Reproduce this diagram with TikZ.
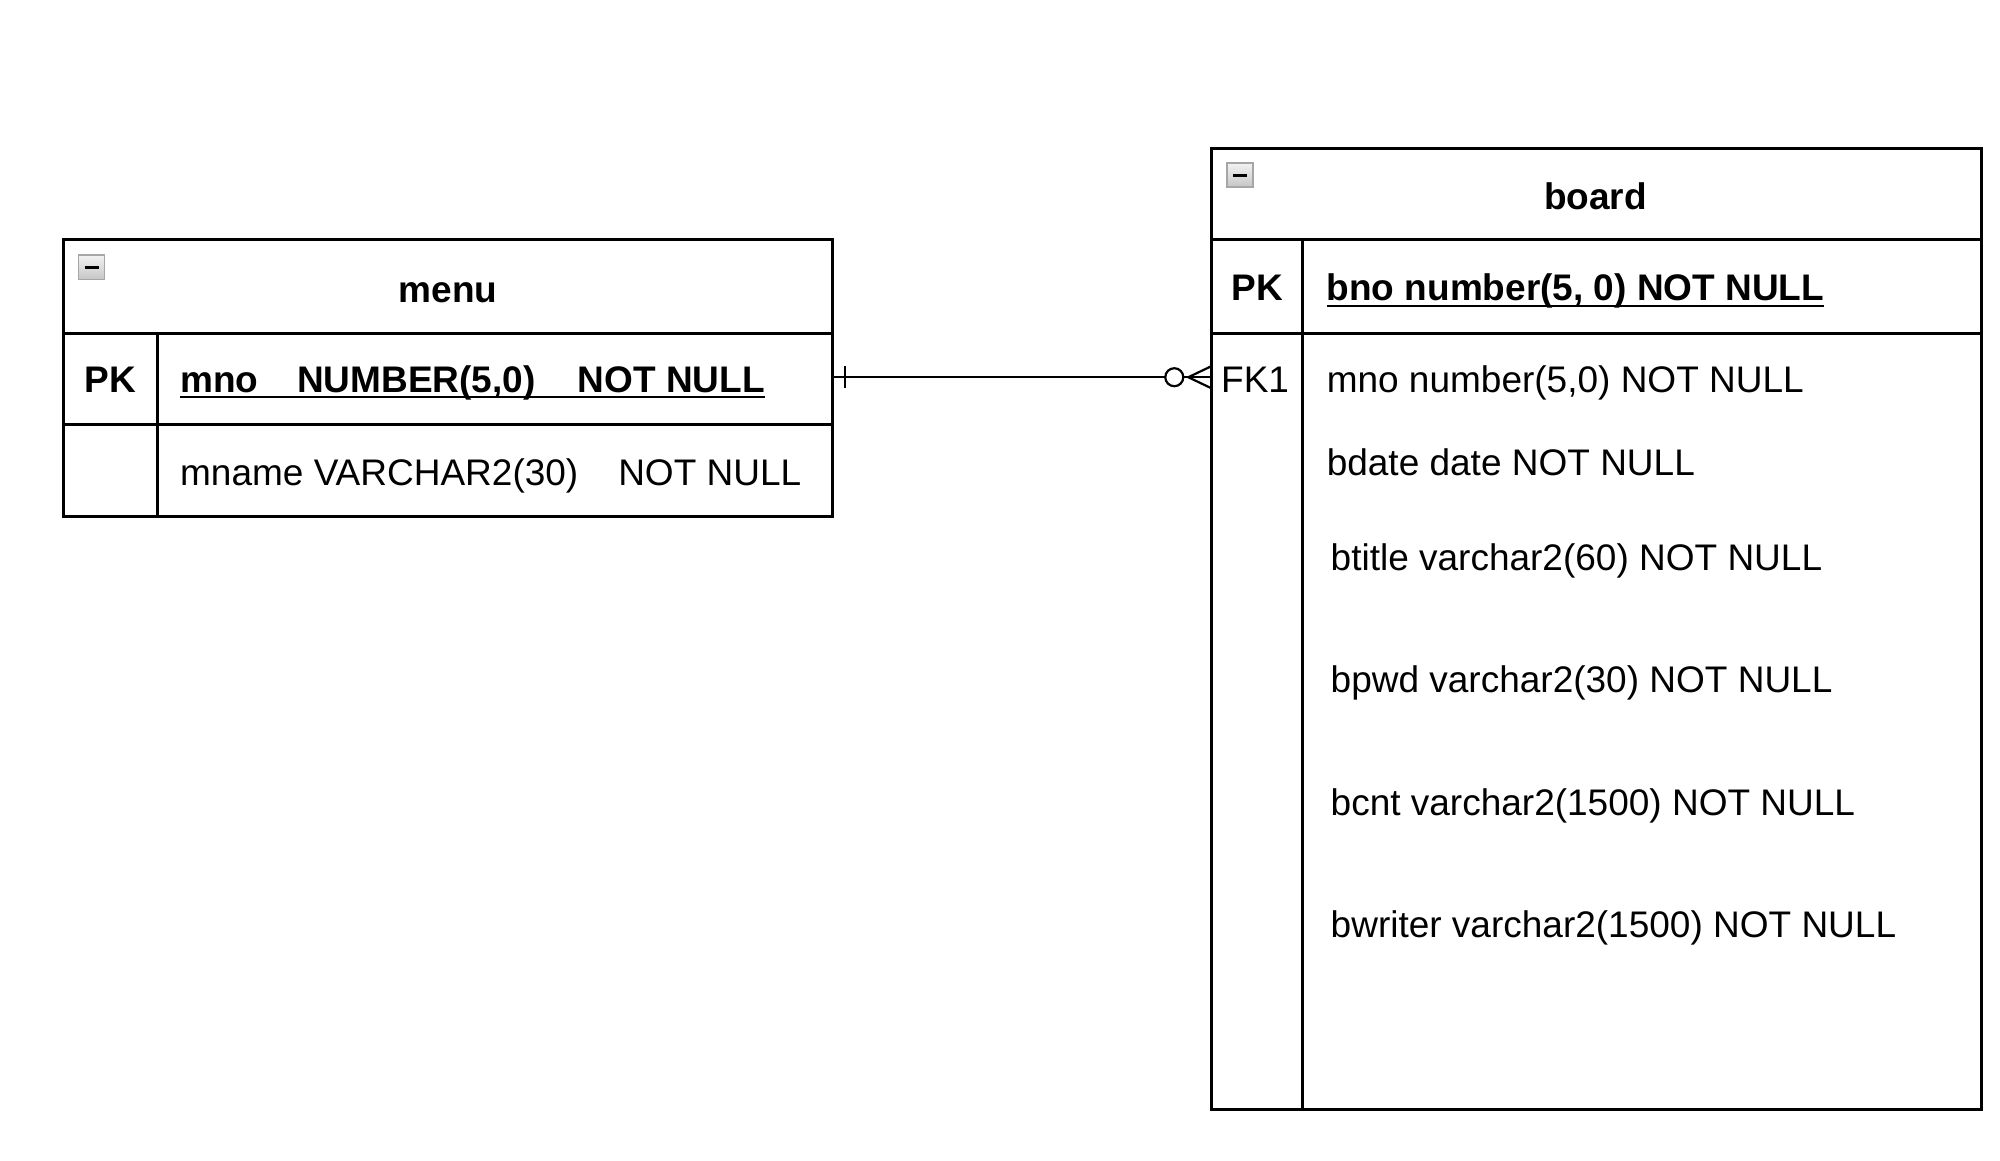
\documentclass[tikz,border=0pt]{standalone}
\usepackage{fontspec}
\setmainfont{Liberation Sans}
\begin{document}
\begin{tikzpicture}[x=0.9953pt,y=-0.9953pt,
  every node/.style={font=\fontsize{37}{44}\selectfont, inner sep=0pt, outer sep=0pt},
  tbl/.style={draw, line width=3pt, rectangle, anchor=north west},
  sep/.style={line width=3pt},
  fld/.style={anchor=base west},
  ttl/.style={anchor=base, font=\fontsize{37}{44}\selectfont\bfseries},
  key/.style={anchor=base},
  uline/.style={line width=2pt},
  rel/.style={line width=2.2pt},
  icon/.style={draw=gray!70, line width=1.5pt, top color=gray!10, bottom color=gray!45}
]
\useasboundingbox (0pt,0pt) rectangle (2000pt,-1161pt);

% ---------- menu table ----------
\node[tbl, minimum width=769pt, minimum height=277pt] (menu) at (64,241) {};
\draw[sep] (64,335) -- (837,335);
\draw[sep] (64,427) -- (837,427);
\draw[sep] (158,335) -- (158,519);
\draw[icon] (79,256) rectangle (105,281);
\draw[line width=3pt] (85,268.5) -- (99,268.5);
\node[ttl] (menutitle) at (450,304) {menu};
\node[key, font=\fontsize{37}{44}\selectfont\bfseries] (mpk) at (111,394) {PK};
\node[fld, font=\fontsize{37}{44}\selectfont\bfseries] (mno) at (181,394) {mno\hspace{39pt}NUMBER(5,0)\hspace{42pt}NOT NULL};
\draw[uline] ([yshift=-5pt]mno.base west) -- ([yshift=-5pt]mno.base east);
\node[fld] (mname) at (181,488) {mname VARCHAR2(30)\hspace{40pt}NOT NULL};

% ---------- board table ----------
\node[tbl, minimum width=770pt, minimum height=961pt] (board) at (1217,149) {};
\draw[sep] (1217,241) -- (1991,241);
\draw[sep] (1217,335) -- (1991,335);
\draw[sep] (1309,241) -- (1309,1115);
\draw[icon] (1233,164) rectangle (1259,188);
\draw[line width=3pt] (1239,176) -- (1253,176);
\node[ttl] (boardtitle) at (1603,210) {board};
\node[key, font=\fontsize{37}{44}\selectfont\bfseries] (bpk) at (1263,302) {PK};
\node[fld, font=\fontsize{37}{44}\selectfont\bfseries] (bno) at (1333,302) {bno number(5, 0) NOT NULL};
\draw[uline] ([yshift=-5pt]bno.base west) -- ([yshift=-5pt]bno.base east);
\node[key] (fk) at (1261,394) {FK1};
\node[fld] (bmno) at (1333,394) {mno number(5,0) NOT NULL};
\node[fld] (bdate) at (1333,478) {bdate date NOT NULL};
\node[fld] (btitle) at (1337,573) {btitle varchar2(60) NOT NULL};
\node[fld] (bpwd) at (1337,696) {bpwd varchar2(30) NOT NULL};
\node[fld] (bcnt) at (1337,819) {bcnt varchar2(1500) NOT NULL};
\node[fld] (bwriter) at (1337,942) {bwriter varchar2(1500) NOT NULL};

% ---------- relationship ----------
\coordinate (rs) at (menu.east |- 0,379);
\coordinate (re) at (board.west |- 0,379);
\draw[rel] (rs) -- ([xshift=-46pt]re);
\draw[rel] ([xshift=12pt]rs) ++(0,-11) -- ++(0,22);
\draw[rel, fill=white] ([xshift=-37pt]re) circle (9pt);
\draw[rel] ([xshift=-23pt]re) -- ([yshift=-11pt]re);
\draw[rel] ([xshift=-23pt]re) -- ([yshift=11pt]re);
\draw[rel] ([xshift=-28pt]re) -- (re);
\end{tikzpicture}
\end{document}
